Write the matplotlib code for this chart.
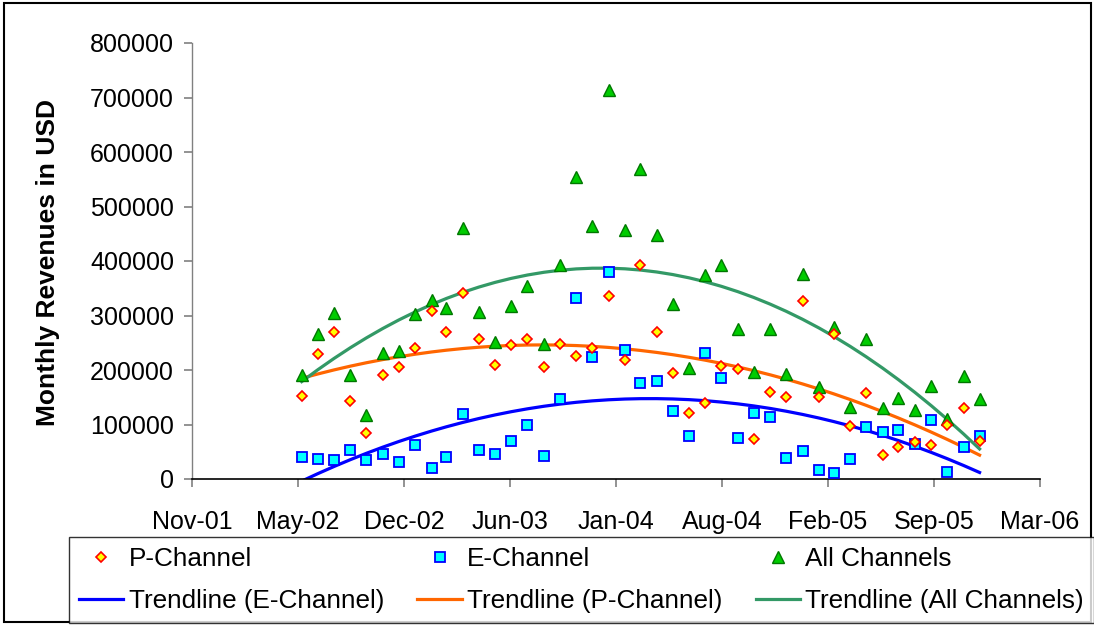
import numpy as np
import pandas as pd
import matplotlib
matplotlib.use("Agg")
import matplotlib.pyplot as plt
import matplotlib.dates as mdates
from matplotlib.lines import Line2D
from matplotlib.patches import Rectangle

plt.rcParams['font.family'] = ['Liberation Sans', 'DejaVu Sans']

# ---- data (monthly, Jun-02 .. Dec-05) ----
months = pd.date_range('2002-06-01', periods=43, freq='MS')

p_channel = [153000, 230000, 270000, 143000, 84000, 190000, 206000, 240000, 308000, 270000,
             342000, 256000, 209000, 245000, 256000, 206000, 248000, 225000, 240000, 336000,
             218000, 392000, 270000, 194000, 122000, 139000, 208000, 202000, 73000, 160000,
             151000, 327000, 151000, 266000, 97000, 158000, 44000, 59000, 67000, 62000,
             99000, 131000, 69000]

e_channel = [40000, 37000, 34000, 53000, 34000, 46000, 31000, 62000, 21000, 40000,
             119000, 53000, 46000, 69000, 100000, 43000, 147000, 333000, 224000, 380000,
             237000, 177000, 180000, 125000, 78000, 231000, 185000, 76000, 122000, 113000,
             39000, 52000, 17000, 11000, 37000, 96000, 87000, 90000, 64000, 108000,
             12000, 59000, 78000]

all_channels = [191000, 266000, 305000, 191000, 118000, 232000, 235000, 303000, 328000, 313000,
                460000, 307000, 251000, 317000, 354000, 248000, 393000, 554000, 464000, 714000,
                456000, 569000, 447000, 321000, 204000, 374000, 393000, 276000, 196000, 276000,
                193000, 377000, 169000, 278000, 133000, 256000, 130000, 148000, 127000, 171000,
                111000, 189000, 146000]

tick_dates = ['2001-11-06', '2002-05-25', '2002-12-11', '2003-06-29', '2004-01-15',
              '2004-08-02', '2005-02-18', '2005-09-06', '2006-03-25']
tick_labels = ['Nov-01', 'May-02', 'Dec-02', 'Jun-03', 'Jan-04',
               'Aug-04', 'Feb-05', 'Sep-05', 'Mar-06']
y_ticks = [0, 100000, 200000, 300000, 400000, 500000, 600000, 700000, 800000]

TREND_DEGREE = 2  # polynomial trendline (as in the spreadsheet)

fig = plt.figure(figsize=(10.94, 6.25), dpi=100)
ax = fig.add_axes([192 / 1094, 1 - 479 / 625, (1040 - 192) / 1094, (479 - 43) / 625])

xnum = mdates.date2num(months)

def trend(vals):
    coef = np.polyfit(xnum - xnum[0], np.asarray(vals, float), TREND_DEGREE)
    return np.polyval(coef, xnum - xnum[0])

tr_e = trend(e_channel)
tr_p = trend(p_channel)
tr_a = trend(all_channels)

ax.plot(months, tr_e, color='#0000FF', lw=2.3, zorder=2)
ax.plot(months, tr_p, color='#FF6600', lw=2.3, zorder=2)
ax.plot(months, tr_a, color='#339966', lw=2.3, zorder=2)

ax.plot(months, all_channels, ls='none', marker='^', ms=8, mfc='#00CC00', mec='#007700', mew=1.0, zorder=3)
ax.plot(months, e_channel, ls='none', marker='s', ms=7.3, mfc='#00FFFF', mec='#0000FF', mew=1.3, zorder=4)
ax.plot(months, p_channel, ls='none', marker='D', ms=5.2, mfc='#FFFF00', mec='#FF0000', mew=1.2, zorder=5)

td = pd.to_datetime(tick_dates)
ax.set_xlim(td[0], td[-1])
ax.set_xticks(td)
ax.set_xticklabels(tick_labels)
ax.set_ylim(0, 800000)
ax.set_yticks(y_ticks)
ax.set_yticklabels([str(v) for v in y_ticks])

for s in ['top', 'right']:
    ax.spines[s].set_visible(False)
ax.spines['left'].set_color('#808080')
ax.spines['bottom'].set_color('black')
ax.spines['left'].set_linewidth(1.0)
ax.spines['bottom'].set_linewidth(1.2)
ax.tick_params(axis='both', direction='out', length=6, width=1.2, color='#808080', labelsize=18)
ax.tick_params(axis='y', pad=7)
ax.tick_params(axis='x', pad=16)
ax.set_ylabel('Monthly Revenues in USD', fontsize=19, fontweight='bold')
ax.yaxis.set_label_coords((48 - 192) / 848, (479 - 262) / 436)
ax.yaxis.label.set_verticalalignment('center')

# legend
h_p = Line2D([], [], ls='none', marker='D', ms=5.2, mfc='#FFFF00', mec='#FF0000', mew=1.2)
h_e = Line2D([], [], ls='none', marker='s', ms=7.3, mfc='#00FFFF', mec='#0000FF', mew=1.3)
h_a = Line2D([], [], ls='none', marker='^', ms=8, mfc='#00CC00', mec='#007700', mew=1.0)
h_te = Line2D([], [], color='#0000FF', lw=2.3)
h_tp = Line2D([], [], color='#FF6600', lw=2.3)
h_ta = Line2D([], [], color='#339966', lw=2.3)
handles = [h_p, h_te, h_e, h_tp, h_a, h_ta]
labels = ['P-Channel', 'Trendline (E-Channel)', 'E-Channel', 'Trendline (P-Channel)',
          'All Channels', 'Trendline (All Channels)']
leg = fig.legend(handles, labels, ncol=3, loc='upper left',
                 bbox_to_anchor=(69 / 1094, 1 - 537 / 625),
                 fontsize=18.8, frameon=True, fancybox=False, borderaxespad=0,
                 handlelength=1.7, handletextpad=0.2, columnspacing=1.28,
                 labelspacing=0.7, borderpad=0.38)
leg.get_frame().set_edgecolor('black')
leg.get_frame().set_linewidth(1.0)

fig.patches.append(Rectangle((4 / 1094, 3 / 625), (1091 - 4) / 1094, (622 - 3) / 625,
                             transform=fig.transFigure, fill=False, edgecolor='black',
                             lw=1.5, zorder=0))

fig.savefig('out.png', dpi=100)
